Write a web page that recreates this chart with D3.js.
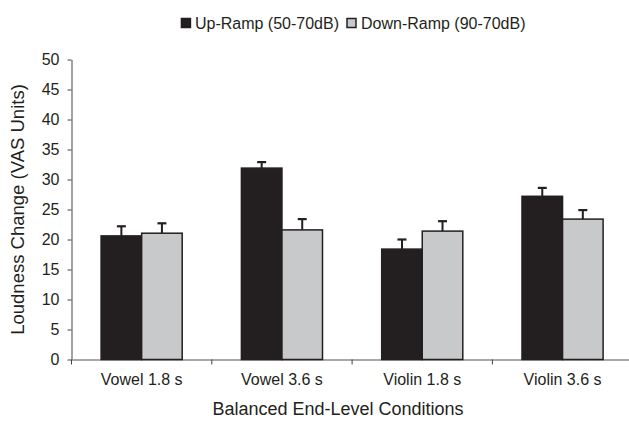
<!DOCTYPE html>
<html>
<head>
<meta charset="utf-8">
<script src="https://cdn.jsdelivr.net/npm/d3@7"></script>
<style>
	body { margin: 0; background: #fff; }
	text { font-family: Arial, "Liberation Sans", sans-serif; fill: #231f20; }
</style>
</head>
<body>
<div id="chart"></div>
<script>
var categories = ["Vowel 1.8 s", "Vowel 3.6 s", "Violin 1.8 s", "Violin 3.6 s"];
var seriesNames = ["Up-Ramp (50-70dB)", "Down-Ramp (90-70dB)"];
var upRamp = [20.6, 31.9, 18.4, 27.2];
var upRampErr = [1.6, 1.0, 1.6, 1.4];
var downRamp = [21.05, 21.6, 21.4, 23.4];
var downRampErr = [1.65, 1.8, 1.65, 1.5];
var yTicks = [0, 5, 10, 15, 20, 25, 30, 35, 40, 45, 50];

var colorArray = ["#231f20", "#c8c9ca"];

var width = 629;
var height = 424;
var margin = { top: 59.5, left: 71.5, bottom: 359.5 };

var svg = d3
	.select("#chart")
	.append("svg")
	.attr("width", width)
	.attr("height", height);

var xScale = d3
	.scaleBand()
	.domain(categories)
	.range([margin.left, margin.left + 561.2])
	.paddingInner(0)
	.paddingOuter(0);

var xInner = d3
	.scaleBand()
	.domain([0, 1])
	.range([0, xScale.bandwidth()])
	.paddingInner(0)
	.paddingOuter(0.73);

var yScale = d3.scaleLinear().domain([0, 50]).range([margin.bottom, margin.top]);

// y axis
var yAxis = d3.axisLeft(yScale).tickValues(yTicks).tickSize(4).tickSizeOuter(0).tickPadding(8);
var gy = svg.append("g")
	.attr("transform", "translate(" + margin.left + ",0)")
	.call(yAxis);
gy.select(".domain").attr("stroke", "#444").attr("stroke-width", 1);
gy.selectAll(".tick line").attr("stroke", "#444");
gy.selectAll(".tick text")
	.style("font-size", "16px")
	.attr("fill", "#231f20");

// bars
var rows = [];
for (let i = 0; i < categories.length; i++) {
	rows.push({ cat: categories[i], s: 0, v: upRamp[i], e: upRampErr[i] });
	rows.push({ cat: categories[i], s: 1, v: downRamp[i], e: downRampErr[i] });
}

// error bars (upper only)
svg.selectAll("line.err")
	.data(rows)
	.enter()
	.append("line")
	.attr("class", "err")
	.attr("x1", (d) => xScale(d.cat) + xInner(d.s) + xInner.bandwidth() / 2)
	.attr("x2", (d) => xScale(d.cat) + xInner(d.s) + xInner.bandwidth() / 2)
	.attr("y1", (d) => yScale(d.v))
	.attr("y2", (d) => yScale(d.v + d.e))
	.attr("stroke", "#231f20")
	.attr("stroke-width", 2);

svg.selectAll("line.cap")
	.data(rows)
	.enter()
	.append("line")
	.attr("class", "cap")
	.attr("x1", (d) => xScale(d.cat) + xInner(d.s) + xInner.bandwidth() / 2 - 4.5)
	.attr("x2", (d) => xScale(d.cat) + xInner(d.s) + xInner.bandwidth() / 2 + 4.5)
	.attr("y1", (d) => yScale(d.v + d.e))
	.attr("y2", (d) => yScale(d.v + d.e))
	.attr("stroke", "#231f20")
	.attr("stroke-width", 2.2);

// x axis
var xAxis = d3.axisBottom(xScale).tickSize(0).tickPadding(14);
var gx = svg.append("g")
	.attr("transform", "translate(0," + margin.bottom + ")")
	.call(xAxis);
gx.select(".domain").attr("stroke", "#8c8c8c").attr("stroke-width", 1.5);
gx.selectAll(".tick text")
	.style("font-size", "16px")
	.attr("fill", "#231f20");

// category boundary ticks
svg.selectAll("line.xtick")
	.data(categories)
	.enter()
	.append("line")
	.attr("class", "xtick")
	.attr("x1", (d) => xScale(d))
	.attr("x2", (d) => xScale(d))
	.attr("y1", margin.bottom)
	.attr("y2", margin.bottom + 5)
	.attr("stroke", "#444")
	.attr("stroke-width", 1);

svg.selectAll("rect.bar")
	.data(rows)
	.enter()
	.append("rect")
	.attr("class", "bar")
	.attr("x", (d) => xScale(d.cat) + xInner(d.s))
	.attr("y", (d) => yScale(d.v))
	.attr("width", xInner.bandwidth())
	.attr("height", (d) => yScale(0) - yScale(d.v))
	.attr("fill", (d) => colorArray[d.s])
	.attr("stroke", "#231f20")
	.attr("stroke-width", 1.5);

// axis titles
svg.append("text")
	.attr("transform", "translate(24," + (margin.top + margin.bottom) / 2 + ") rotate(-90)")
	.style("text-anchor", "middle")
	.style("font-size", "18.5px")
	.text("Loudness Change (VAS Units)");

svg.append("text")
	.attr("x", 338)
	.attr("y", 415)
	.style("text-anchor", "middle")
	.style("font-size", "18px")
	.text("Balanced End-Level Conditions");

// legend: first label ends just before the second swatch
var legendY = 29;
var upText = svg.append("text")
	.attr("x", 339)
	.attr("y", legendY)
	.style("text-anchor", "end")
	.style("font-size", "16px")
	.text(seriesNames[0]);
var upStart = 339 - upText.node().getComputedTextLength();
var swatchX = [upStart - 14, 346.5];

for (let i = 0; i < seriesNames.length; i++) {
	svg.append("rect")
		.attr("x", swatchX[i] + 0.5)
		.attr("y", 18.5)
		.attr("width", 9)
		.attr("height", 9)
		.attr("fill", colorArray[i])
		.attr("stroke", "#231f20")
		.attr("stroke-width", 1.5);
}
svg.append("text")
	.attr("x", 361)
	.attr("y", legendY)
	.style("font-size", "16px")
	.text(seriesNames[1]);
</script>
</body>
</html>
